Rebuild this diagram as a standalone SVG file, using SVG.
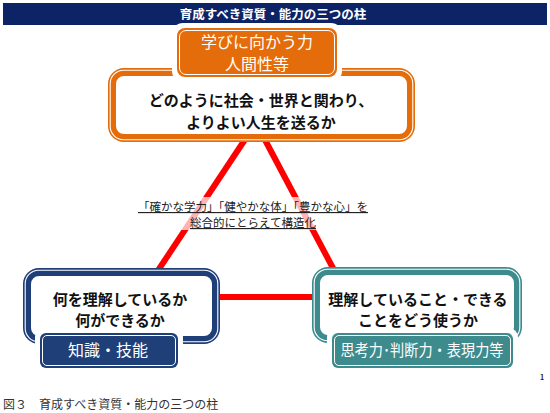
<svg xmlns="http://www.w3.org/2000/svg" width="550" height="413" viewBox="0 0 550 413">
<style>
.jp{font-family:"Noto Sans CJK JP","Noto Sans",sans-serif}
.ser{font-family:"Liberation Serif","Noto Sans CJK JP",serif}
.main{font-size:15px;font-weight:bold;fill:#111;text-anchor:middle}
.lbl{font-size:16px;fill:#fff;text-anchor:middle}
.red{stroke:#ff0000;stroke-width:6;fill:none}
</style>
<rect x="0" y="0" width="550" height="413" fill="#fff"/>
<g id="header">
<rect x="3" y="3" width="544" height="22" fill="#0c2466"/>
<text x="273" y="19" class="jp" font-size="12.5" font-weight="bold" fill="#fff" text-anchor="middle">育成すべき資質・能力の三つの柱</text>
</g>
<g id="connectors">
<line class="red" x1="246" y1="138" x2="157" y2="272"/>
<line class="red" x1="264" y1="138" x2="334" y2="270"/>
<line class="red" x1="218" y1="297" x2="314" y2="297" stroke-width="7"/>
</g>
<g id="center-text">
<rect x="141" y="197" width="222" height="33" fill="#fff" fill-opacity="0.7"/>
<text class="ser" font-size="11.5" fill="#222" text-anchor="middle" text-decoration="underline"><tspan x="253" y="211">「確かな学力」「健やかな体」「豊かな心」を</tspan><tspan x="253" y="227">総合的にとらえて構造化</tspan></text>
</g>
<g id="top">
<rect x="112" y="72" width="299" height="66" rx="12" fill="#fff" stroke="#e46c0a" stroke-width="8"/>
<rect x="110.2" y="70.2" width="302.6" height="69.6" rx="13.5" fill="none" stroke="#fff" stroke-width="1.1"/>
<rect x="172" y="23" width="170" height="59" rx="11" fill="#fff"/>
<rect x="177" y="28" width="160" height="49" rx="8" fill="#e46c0a"/>
<rect x="179.5" y="30.5" width="155" height="44" rx="6.5" fill="none" stroke="#fff" stroke-width="1"/>
<text class="jp lbl"><tspan x="257" y="48">学びに向かう力</tspan><tspan x="257" y="70">人間性等</tspan></text>
<text class="jp main"><tspan x="261" y="106">どのように社会・世界と関わり、</tspan><tspan x="261" y="128">よりよい人生を送るか</tspan></text>
</g>
<g id="left">
<rect x="27" y="272" width="189" height="68" rx="12" fill="#fff" stroke="#1f3f78" stroke-width="8"/>
<rect x="25.2" y="270.2" width="192.6" height="71.6" rx="13.5" fill="none" stroke="#fff" stroke-width="1.1"/>
<rect x="35" y="328" width="148" height="45" rx="9" fill="#fff"/>
<rect x="40" y="333" width="138" height="35" rx="6" fill="#1f3f78"/>
<rect x="42.5" y="335.5" width="133" height="30" rx="4.5" fill="none" stroke="#fff" stroke-width="1"/>
<text class="jp main"><tspan x="120" y="305">何を理解しているか</tspan><tspan x="120" y="326">何ができるか</tspan></text>
<text class="jp lbl" x="108" y="356" font-size="17">知識・技能</text>
</g>
<g id="right">
<rect x="316" y="271" width="202" height="68" rx="12" fill="#fff" stroke="#3e8b8e" stroke-width="8"/>
<rect x="314.2" y="269.2" width="205.6" height="71.6" rx="13.5" fill="none" stroke="#fff" stroke-width="1.1"/>
<rect x="327" y="328" width="191" height="45" rx="9" fill="#fff"/>
<rect x="332" y="333" width="181" height="35" rx="6" fill="#3e8b8e"/>
<rect x="334.5" y="335.5" width="176" height="30" rx="4.5" fill="none" stroke="#fff" stroke-width="1"/>
<text class="jp main"><tspan x="418" y="305">理解していること・できる</tspan><tspan x="418" y="326">ことをどう使うか</tspan></text>
<text class="jp lbl" x="422" y="356" font-size="14.5" textLength="163" lengthAdjust="spacingAndGlyphs">思考力･判断力・表現力等</text>
</g>
<text x="540" y="380" class="jp" font-size="7" font-weight="bold" fill="#222">1</text>
<text x="3" y="409" class="ser" font-size="12" fill="#333">図３　育成すべき資質・能力の三つの柱</text>
</svg>
